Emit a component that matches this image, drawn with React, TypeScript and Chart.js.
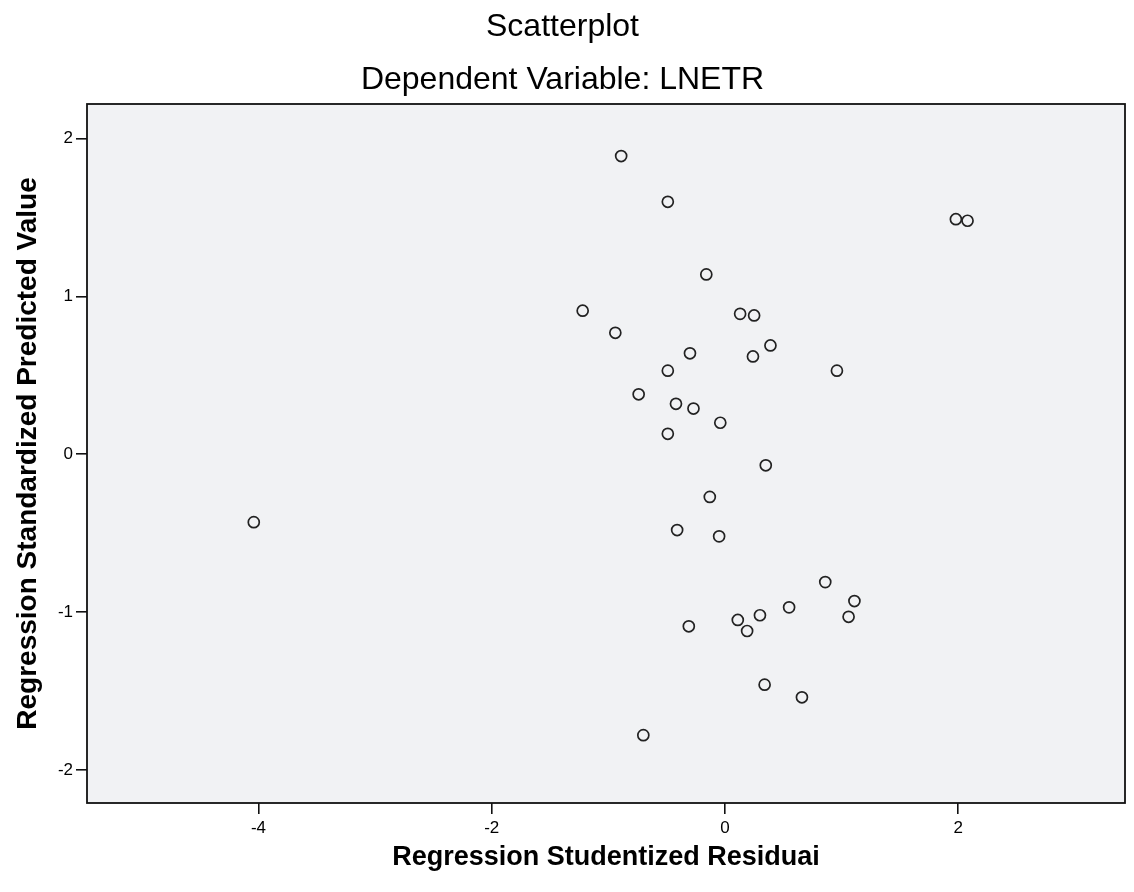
import React, { useEffect, useRef } from 'react';
import { Chart, registerables } from 'chart.js';

Chart.register(...registerables);

// Regression Studentized Residual (x) and Regression Standardized Predicted Value (y)
const residuals = [
  -0.89, -0.49, -0.16, -1.22, 0.13, 0.25, -0.94, 0.39, -0.30, 0.24,
  -0.49, 0.96, -0.74, -0.42, -0.27, -0.04, -0.49, 0.35, -0.13, -0.41,
  -0.05, 0.86, 1.11, 0.55, 1.06, 0.30, 0.11, 0.19, -0.31, 0.34,
  0.66, -0.70, 1.98, 2.08, -4.04,
];
const predicted = [
  1.89, 1.60, 1.14, 0.91, 0.89, 0.88, 0.77, 0.69, 0.64, 0.62,
  0.53, 0.53, 0.38, 0.32, 0.29, 0.20, 0.13, -0.07, -0.27, -0.48,
  -0.52, -0.81, -0.93, -0.97, -1.03, -1.02, -1.05, -1.12, -1.09, -1.46,
  -1.54, -1.78, 1.49, 1.48, -0.43,
];
const xTicks = [-4, -2, 0, 2];
const yTicks = [-2, -1, 0, 1, 2];
const xRange = [-5.47, 3.43];
const yRange = [-2.21, 2.22];

const FONT = "'Liberation Sans', Arial, Helvetica, sans-serif";

export default function App() {
  const ref = useRef<HTMLCanvasElement>(null);

  useEffect(() => {
    document.body.style.margin = '0';
    const canvas = ref.current;
    if (!canvas) return;

    const framePlugin = {
      id: 'frame',
      beforeDraw(chart: any) {
        const { ctx, chartArea } = chart;
        const { left, top, right, bottom } = chartArea;
        ctx.save();
        ctx.fillStyle = '#ffffff';
        ctx.fillRect(0, 0, chart.width, chart.height);
        ctx.fillStyle = '#f1f2f4';
        ctx.fillRect(left, top, right - left, bottom - top);
        ctx.restore();
      },
      afterDraw(chart: any) {
        const { ctx, chartArea } = chart;
        const { left, top, right, bottom } = chartArea;
        ctx.save();
        ctx.strokeStyle = '#111';
        ctx.lineWidth = 1.8;
        ctx.strokeRect(left, top, right - left, bottom - top);
        ctx.restore();
      },
    };

    const points = residuals.map((x, i) => ({ x, y: predicted[i] }));

    const chart = new Chart(canvas, {
      type: 'scatter',
      data: {
        datasets: [
          {
            data: points,
            pointStyle: 'circle',
            pointRadius: 5.5,
            pointBorderWidth: 1.7,
            pointBorderColor: '#222',
            pointBackgroundColor: 'rgba(0,0,0,0)',
            pointHoverRadius: 5.5,
          },
        ],
      },
      options: {
        responsive: false,
        animation: false,
        devicePixelRatio: 1,
        layout: { padding: { left: 0, right: 9, top: 0, bottom: 0 } },
        plugins: {
          legend: { display: false },
          tooltip: { enabled: false },
          title: {
            display: true,
            text: 'Scatterplot',
            color: '#000',
            font: { family: FONT, size: 32, weight: 'normal' },
            padding: { top: 8, bottom: 0 },
          },
          subtitle: {
            display: true,
            text: 'Dependent Variable: LNETR',
            color: '#000',
            font: { family: FONT, size: 32, weight: 'normal' },
            padding: { top: 14.4, bottom: 4.8 },
          },
        },
        scales: {
          x: {
            type: 'linear',
            position: 'bottom',
            min: xRange[0],
            max: xRange[1],
            afterBuildTicks: (s: any) => {
              s.ticks = xTicks.map((value) => ({ value }));
            },
            afterFit: (s: any) => {
              s.height = 89;
            },
            border: { display: false },
            grid: {
              display: true,
              drawOnChartArea: false,
              drawTicks: true,
              tickLength: 11,
              color: '#111',
              lineWidth: 1.6,
            },
            ticks: {
              color: '#000',
              font: { family: FONT, size: 17 },
              padding: 4,
              maxRotation: 0,
              autoSkip: false,
              callback: (v: any) => String(v),
            },
            title: {
              display: true,
              text: 'Regression Studentized Residuai',
              color: '#000',
              font: { family: FONT, size: 27, weight: 'bold' },
              padding: { top: 0, bottom: 18 },
            },
          },
          y: {
            type: 'linear',
            min: yRange[0],
            max: yRange[1],
            afterBuildTicks: (s: any) => {
              s.ticks = yTicks.map((value) => ({ value }));
            },
            afterFit: (s: any) => {
              s.width = 87;
            },
            border: { display: false },
            grid: {
              display: true,
              drawOnChartArea: false,
              drawTicks: true,
              tickLength: 11,
              color: '#111',
              lineWidth: 1.6,
            },
            ticks: {
              color: '#000',
              font: { family: FONT, size: 17 },
              padding: 3,
              autoSkip: false,
              callback: (v: any) => String(v),
            },
            title: {
              display: true,
              text: 'Regression Standardized Predicted Value',
              color: '#000',
              font: { family: FONT, size: 28, weight: 'bold' },
              padding: { top: 11, bottom: 0 },
            },
          },
        },
      },
      plugins: [framePlugin],
    });

    return () => chart.destroy();
  }, []);

  return (
    <div style={{ position: 'absolute', left: 0, top: 0, width: 1134, height: 892 }}>
      <canvas ref={ref} width={1134} height={892} style={{ display: 'block' }} />
    </div>
  );
}
